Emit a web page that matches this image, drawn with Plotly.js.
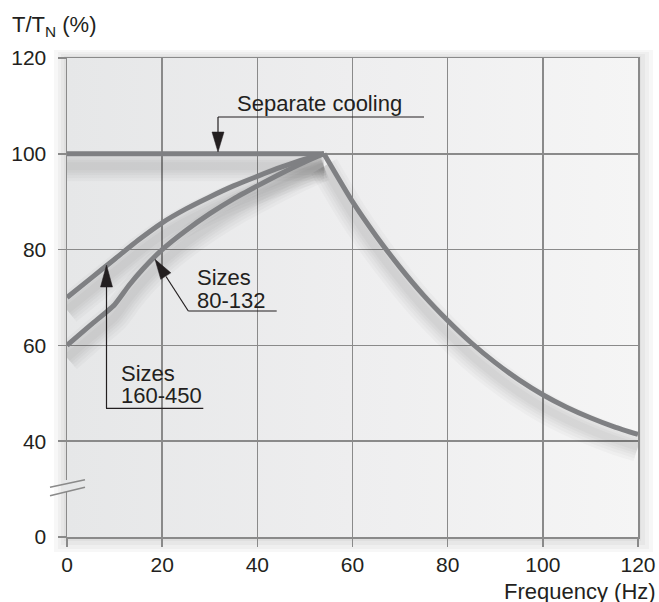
<!DOCTYPE html>
<html>
<head>
<meta charset="utf-8">
<script src="https://cdn.plot.ly/plotly-3.0.1.min.js"></script>
<style>
  html, body { margin: 0; padding: 0; background: #ffffff; }
  #chart { width: 659px; height: 602px; }
</style>
</head>
<body>
<div id="chart"></div>
<script>
// ---- Data ----
const freqSeparate   = [0, 54, 60, 65, 70, 75, 80, 85, 90, 95, 100, 105, 110, 115, 120];
const torqueSeparate = [100, 100, 90, 82.8, 76.3, 70.4, 65.2, 60.5, 56.4, 52.8, 49.7, 47.1, 44.9, 43, 41.4];

const freqLarge   = [0, 5, 10, 15, 20, 25, 30, 35, 40, 45, 50, 54];   // Sizes 160-450
const torqueLarge = [70, 74, 78, 82, 85.6, 88.5, 91, 93.3, 95.3, 97.2, 98.9, 100];

const freqSmall   = [0, 5, 10, 13, 16, 20, 25, 30, 35, 40, 45, 50, 54];  // Sizes 80-132
const torqueSmall = [60, 64.3, 68.5, 72.5, 76, 80, 84, 87.5, 90.6, 93.3, 95.9, 98.3, 100];

const xTickVals  = [0, 20, 40, 60, 80, 100, 120];
const xTickText  = ['0', '20', '40', '60', '80', '100', '120'];
// the axis is broken between 0 and 40: the "0" label sits one grid step below 40
const yTickVals  = [20, 40, 60, 80, 100, 120];
const yTickText  = ['0', '40', '60', '80', '100', '120'];

// ---- Layout helpers (pixel -> paper) ----
const W = 659, H = 602;
const L = 67, R = 638, T = 58, B = 537;
function px(x) { return (x - L) / (R - L); }
function py(y) { return (B - y) / (B - T); }

const GRID = '#8a8a8a';
const CURVE = '#7f8083';
const INK = '#231f20';
const FONT = 'Liberation Sans, Arial, Helvetica, sans-serif';

// ---- Traces: soft drop shadow (drawn first) then the curves ----
const series = [
  { x: freqSmall, y: torqueSmall, shape: 'spline', name: 'Sizes 80-132' },
  { x: freqLarge, y: torqueLarge, shape: 'spline', name: 'Sizes 160-450' },
  { x: freqSeparate.slice(0, 2), y: torqueSeparate.slice(0, 2), shape: 'linear', name: 'Separate cooling' },
  { x: freqSeparate.slice(1), y: torqueSeparate.slice(1), shape: 'spline', name: 'Separate cooling (field weakening)' }
];
const SHADOW_DROP = 2.6;  // in axis units (about 12 px)
const shadowWidths = [30, 24, 18, 13, 8];
const traces = [];
shadowWidths.forEach(function (w) {
  series.forEach(function (s) {
    traces.push({
      x: s.x, y: s.y.map(function (v) { return v - SHADOW_DROP; }),
      mode: 'lines', hoverinfo: 'skip', showlegend: false,
      line: { color: 'rgba(0,0,0,0.022)', width: w, shape: s.shape, smoothing: 0.6 }
    });
  });
});
series.forEach(function (s) {
  traces.push({ x: s.x, y: s.y, mode: 'lines', name: s.name,
                line: { color: CURVE, width: 5, shape: s.shape, smoothing: 0.6 } });
});

function seg(x0, y0, x1, y1, color, width) {
  return { type: 'line', xref: 'paper', yref: 'paper', x0: px(x0), y0: py(y0), x1: px(x1), y1: py(y1),
           line: { color: color, width: width }, layer: 'above' };
}
function tri(pts) {
  const d = 'M ' + pts.map(p => px(p[0]) + ',' + py(p[1])).join(' L ') + ' Z';
  return { type: 'path', xref: 'paper', yref: 'paper', path: d, fillcolor: INK, line: { color: INK, width: 0.5 }, layer: 'above' };
}
function rectPath(x0, y0, x1, y1) {
  return 'M ' + px(x0) + ',' + py(y0) + ' L ' + px(x1) + ',' + py(y0) + ' L ' + px(x1) + ',' + py(y1) +
         ' L ' + px(x0) + ',' + py(y1) + ' Z';
}
// soft shadow frame around the plot area
const frames = [];
[[3, 2, 3, 4], [6, 4, 7, 8], [9, 6, 11, 12], [13, 8, 15, 15]].forEach(function (e) {
  frames.push({ type: 'path', xref: 'paper', yref: 'paper', layer: 'below', fillrule: 'evenodd',
                path: rectPath(L - e[0], T - e[1], R + e[2], B + e[3]) + ' ' + rectPath(L, T, R, B),
                fillcolor: 'rgba(0,0,0,0.03)', line: { width: 0 } });
});

const shapes = frames.concat([
  // axis break
  { type: 'rect', xref: 'paper', yref: 'paper', x0: px(64), x1: px(70), y0: py(491), y1: py(480),
    fillcolor: '#e6e7e8', line: { width: 0 }, layer: 'above' },
  seg(50, 487.3, 85, 479.7, GRID, 1.5),
  seg(50, 495.7, 85, 487.3, GRID, 1.5),
  // Separate cooling leader
  seg(218, 117, 424, 117, INK, 1.2),
  seg(218, 117, 218, 134, INK, 1.2),
  tri([[218, 152], [212, 132], [224, 132]]),
  // Sizes 160-450 leader
  seg(106, 408.3, 203.3, 408.3, INK, 1.2),
  seg(106.5, 408.3, 106.5, 285, INK, 1.2),
  tri([[106.5, 265], [100.5, 287], [112.5, 287]]),
  // Sizes 80-132 leader
  seg(188.3, 311, 276.7, 311, INK, 1.2),
  seg(188.3, 311, 166, 276.5, INK, 1.2),
  tri([[155, 259.3], [170.85, 272.85], [160.75, 279.35]])
]);

function note(text, x, y, xanchor, size) {
  return { text: text, xref: 'paper', yref: 'paper', x: px(x), y: py(y), xanchor: xanchor, yanchor: 'middle',
           showarrow: false, align: 'left', borderpad: 0, font: { family: FONT, size: size || 22, color: INK } };
}

const annotations = [
  note('Separate cooling', 236, 103.4, 'left'),
  note('Sizes', 196, 277.7, 'left'),
  note('80-132', 196, 300, 'left'),
  note('Sizes', 120, 373.4, 'left'),
  note('160-450', 120, 395.4, 'left'),
  note('Frequency (Hz)', 657, 591, 'right'),
  note('T/T<sub>N</sub> (%)', 10.5, 26, 'left')
];

const axisCommon = {
  showgrid: true, gridcolor: GRID, gridwidth: 1.5,
  showline: true, mirror: true, linecolor: GRID, linewidth: 1.5,
  ticks: 'outside', ticklen: 8, tickwidth: 1.5, tickcolor: GRID,
  zeroline: false, tickmode: 'array',
  tickfont: { family: FONT, size: 21, color: INK },
  fixedrange: true
};

const layout = {
  width: W, height: H,
  margin: { l: L, r: W - R, t: T, b: H - B, pad: 0 },
  paper_bgcolor: '#ffffff',
  plot_bgcolor: '#eeeeef',
  showlegend: false,
  xaxis: Object.assign({}, axisCommon, { range: [0, 120], tickvals: xTickVals, ticktext: xTickText, ticklabelstandoff: 0 }),
  yaxis: Object.assign({}, axisCommon, { range: [20, 120], tickvals: yTickVals, ticktext: yTickText, ticklabelstandoff: 7 }),
  shapes: shapes,
  annotations: annotations
};

Plotly.newPlot('chart', traces, layout, { staticPlot: true, displayModeBar: false }).then(function () {
  const NS = 'http://www.w3.org/2000/svg';
  const svg = document.querySelector('#chart .main-svg');
  if (!svg) return;
  let defs = svg.querySelector('defs');
  if (!defs) { defs = document.createElementNS(NS, 'defs'); svg.insertBefore(defs, svg.firstChild); }
  function mk(tag, attrs, parent) {
    const el = document.createElementNS(NS, tag);
    for (const k in attrs) el.setAttribute(k, attrs[k]);
    if (parent) parent.appendChild(el);
    return el;
  }
  // background gradient (light on the right, slightly darker on the left)
  const g = mk('linearGradient', { id: 'bgGrad', x1: '0', y1: '0', x2: '1', y2: '0' }, defs);
  mk('stop', { offset: '0', 'stop-color': '#e6e7e8' }, g);
  mk('stop', { offset: '0.5', 'stop-color': '#eeeeef' }, g);
  mk('stop', { offset: '1', 'stop-color': '#f5f5f5' }, g);
  const bg = document.querySelector('#chart .bglayer rect.bg');
  if (bg) bg.style.fill = 'url(#bgGrad)';
});
</script>
</body>
</html>
